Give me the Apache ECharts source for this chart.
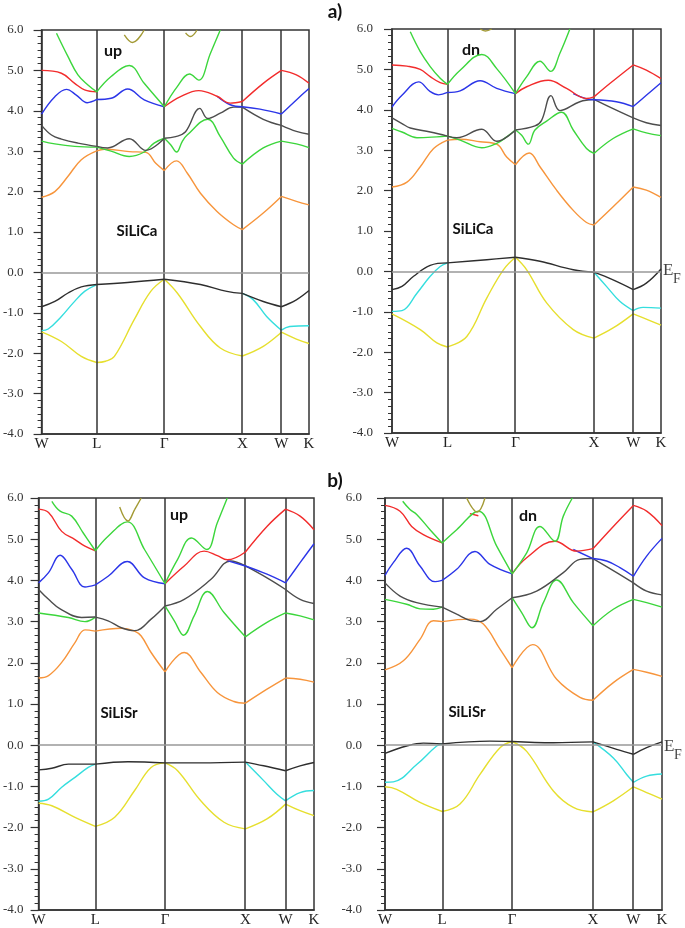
<!DOCTYPE html>
<html><head><meta charset="utf-8">
<script src="https://cdn.jsdelivr.net/npm/echarts@6/dist/echarts.min.js"></script>
<style>html,body{margin:0;padding:0;background:#fff}#c{width:685px;height:928px}</style>
</head><body><div id="c"></div><script>
// high-symmetry k positions (path length units) and their labels
const kPoints = [0, 0.707, 1.573, 2.573, 3.073, 3.427];
const kLabels = ['W', 'L', 'Γ', 'X', 'W', 'K'];
const yMin = -4, yMax = 6, yStep = 1;

// ---------- a) SiLiCa, spin up ----------
const aUp_yellow = [[0,-1.47],[0.254,-1.71],[0.509,-2.08],[0.707,-2.23],[0.82,-2.2],[0.933,-2.08],[1.187,-1.17],[1.399,-0.47],[1.573,-0.17],[1.739,-0.51],[2.036,-1.34],[2.290,-1.87],[2.573,-2.07],[2.841,-1.83],[3.073,-1.48],[3.265,-1.65],[3.427,-1.76]];
const aUp_cyan = [[0,-1.44],[0.085,-1.40],[0.254,-1.09],[0.403,-0.76],[0.551,-0.47],[0.707,-0.30],null,[2.573,-0.52],[2.714,-0.68],[2.884,-1.09],[3.073,-1.43],[3.181,-1.34],[3.427,-1.32]];
const aUp_black = [[0,-0.85],[0.170,-0.72],[0.339,-0.51],[0.509,-0.36],[0.707,-0.30],[1.103,-0.25],[1.573,-0.17],[2.036,-0.30],[2.375,-0.47],[2.573,-0.52],[2.841,-0.72],[3.073,-0.85],[3.265,-0.68],[3.427,-0.45]];
const aUp_orange = [[0,1.86],[0.170,2.0],[0.339,2.38],[0.509,2.79],[0.707,3.01],[0.806,3.05],[1.124,2.99],[1.336,2.97],[1.463,2.7],[1.573,2.52],[1.730,2.76],[1.866,2.46],[2.036,1.96],[2.248,1.51],[2.460,1.18],[2.573,1.06],[2.841,1.47],[3.073,1.88],[3.265,1.76],[3.427,1.67]];
const aUp_greenLo = [[0,3.25],[0.170,3.18],[0.424,3.12],[0.707,3.10],[0.891,3.0],[1.124,2.87],[1.315,2.98],[1.442,3.2],[1.573,3.32],[1.654,3.16],[1.730,2.98],[1.802,3.24],[1.866,3.4],[2.129,3.79],[2.290,3.36],[2.460,2.83],[2.573,2.68],[2.841,3.08],[3.073,3.25],[3.265,3.18],[3.427,3.09]];
const aUp_gray = [[0,3.64],[0.127,3.4],[0.254,3.3],[0.466,3.2],[0.707,3.12],[0.848,3.08],[1.124,3.31],[1.336,3.02],[1.573,3.32],[1.718,3.36],[1.845,3.48],[2.027,4.06],[2.129,3.81],[2.290,3.94],[2.460,4.09],[2.573,4.09],[2.841,3.79],[3.073,3.64],[3.265,3.49],[3.427,3.42]];
const aUp_blue = [[0,3.92],[0.170,4.35],[0.318,4.53],[0.445,4.39],[0.585,4.2],[0.707,4.28],[0.891,4.31],[1.103,4.54],[1.315,4.27],[1.573,4.1],null,[2.248,4.36],[2.417,4.15],[2.573,4.1],[2.799,4.04],[3.073,3.92],[3.265,4.27],[3.427,4.55]];
const aUp_red = [[0,5.0],[0.254,4.93],[0.424,4.68],[0.551,4.52],[0.707,4.47],null,[1.573,4.1],[1.781,4.35],[2.014,4.5],[2.248,4.36],[2.417,4.19],[2.573,4.23],[2.841,4.68],[3.073,5.0],[3.265,4.89],[3.427,4.68]];
const aUp_greenHi = [[0.191,5.92],[0.339,5.34],[0.466,4.89],[0.594,4.64],[0.707,4.47],[0.891,4.85],[1.124,5.12],[1.315,4.68],[1.573,4.1],[1.739,4.6],[1.896,4.91],[2.014,4.76],[2.163,5.42],[2.290,6.0]];
const aUp_olive = [[1.06,5.88],[1.166,5.69],[1.315,6.0],null,[1.845,5.93],[1.908,5.84],[1.993,6.0]];

// ---------- a) SiLiCa, spin down ----------
const aDn_yellow = [[0,-1.05],[0.360,-1.44],[0.572,-1.77],[0.707,-1.87],[0.953,-1.61],[1.207,-0.66],[1.419,0.04],[1.573,0.35],[1.716,0.04],[1.970,-0.78],[2.309,-1.44],[2.573,-1.65],[2.817,-1.40],[3.073,-1.05],[3.240,-1.18],[3.427,-1.33]];
const aDn_cyan = [[0,-0.99],[0.127,-0.97],[0.318,-0.54],[0.487,-0.12],[0.614,0.12],[0.707,0.21],null,[2.573,-0.02],[2.732,-0.37],[2.902,-0.74],[3.073,-0.97],[3.198,-0.89],[3.427,-0.91]];
const aDn_black = [[0,-0.45],[0.127,-0.37],[0.275,-0.12],[0.487,0.15],[0.707,0.21],[1.207,0.29],[1.573,0.35],[1.885,0.25],[2.309,0.04],[2.573,-0.02],[2.817,-0.21],[3.073,-0.45],[3.240,-0.29],[3.427,0.06]];
const aDn_orange = [[0,2.09],[0.191,2.21],[0.360,2.59],[0.530,3.04],[0.707,3.25],[0.868,3.27],[1.123,3.21],[1.334,3.15],[1.461,2.83],[1.573,2.64],[1.749,2.93],[1.885,2.59],[2.097,2.01],[2.309,1.51],[2.478,1.21],[2.573,1.15],[2.817,1.6],[3.073,2.09],[3.240,2.01],[3.427,1.83]];
const aDn_greenLo = [[0,3.54],[0.127,3.45],[0.318,3.31],[0.572,3.33],[0.707,3.35],[0.868,3.25],[1.144,3.06],[1.334,3.17],[1.461,3.33],[1.573,3.5],[1.652,3.37],[1.737,3.15],[1.821,3.5],[1.970,3.72],[2.160,3.94],[2.309,3.5],[2.478,3.04],[2.573,2.92],[2.817,3.29],[3.073,3.53],[3.240,3.43],[3.427,3.36]];
const aDn_gray = [[0,3.80],[0.127,3.66],[0.233,3.55],[0.487,3.45],[0.707,3.35],[0.826,3.31],[1.144,3.52],[1.334,3.22],[1.573,3.5],[1.821,3.6],[1.906,3.74],[2.025,4.35],[2.139,3.98],[2.393,4.2],[2.573,4.26],[2.817,4.03],[3.073,3.8],[3.240,3.68],[3.427,3.61]];
const aDn_blue = [[0,4.07],[0.127,4.36],[0.339,4.69],[0.487,4.45],[0.593,4.37],[0.707,4.43],[0.868,4.47],[1.123,4.72],[1.334,4.53],[1.573,4.4],null,[2.309,4.4],[2.478,4.27],[2.573,4.25],[2.859,4.2],[3.073,4.08],[3.240,4.36],[3.427,4.67]];
const aDn_red = [[0,5.11],[0.191,5.08],[0.360,5.0],[0.487,4.82],[0.614,4.67],[0.707,4.63],null,[1.573,4.4],[1.716,4.57],[1.991,4.73],[2.224,4.53],[2.478,4.28],[2.573,4.32],[2.775,4.65],[3.073,5.11],[3.240,4.98],[3.427,4.77]];
const aDn_greenHi = [[0.233,5.93],[0.360,5.44],[0.487,5.07],[0.614,4.78],[0.707,4.63],[0.868,4.98],[1.144,5.37],[1.334,5.02],[1.573,4.4],[1.716,4.82],[1.885,5.2],[2.021,4.95],[2.139,5.4],[2.266,6.0]];
const aDn_olive = [[1.123,6.0],[1.19,5.95],[1.271,6.0]];

// ---------- b) SiLiSr, spin up ----------
const bUp_yellow = [[0,-1.41],[0.165,-1.47],[0.453,-1.75],[0.707,-1.97],[0.947,-1.75],[1.195,-1.10],[1.400,-0.54],[1.573,-0.43],[1.730,-0.62],[2.018,-1.35],[2.307,-1.87],[2.573,-2.03],[2.842,-1.79],[3.073,-1.43],[3.254,-1.59],[3.427,-1.71]];
const bUp_cyan = [[0,-1.36],[0.124,-1.31],[0.288,-1.02],[0.453,-0.78],[0.618,-0.54],[0.707,-0.46],null,[2.573,-0.41],[2.801,-0.86],[2.966,-1.19],[3.073,-1.35],[3.254,-1.15],[3.427,-1.10]];
const bUp_black = [[0,-0.6],[0.165,-0.56],[0.371,-0.46],[0.707,-0.46],[1.112,-0.40],[1.573,-0.43],[2.018,-0.43],[2.573,-0.41],[2.801,-0.5],[3.073,-0.62],[3.254,-0.5],[3.427,-0.42]];
const bUp_orange = [[0,1.63],[0.124,1.69],[0.288,2.01],[0.453,2.49],[0.577,2.8],[0.707,2.77],[1.030,2.84],[1.195,2.77],[1.277,2.65],[1.400,2.25],[1.573,1.78],[1.812,2.25],[2.018,1.77],[2.224,1.28],[2.430,1.06],[2.573,1.02],[2.842,1.36],[3.073,1.63],[3.254,1.6],[3.427,1.53]];
const bUp_greenLo = [[0,3.21],[0.371,3.10],[0.577,3.0],[0.707,3.11],null,[1.573,3.38],[1.689,3.02],[1.804,2.67],[1.936,3.14],[2.101,3.73],[2.307,3.22],[2.573,2.63],[2.842,2.98],[3.073,3.21],[3.254,3.14],[3.427,3.04]];
const bUp_gray = [[0,3.78],[0.124,3.54],[0.268,3.31],[0.535,3.10],[0.707,3.11],[0.865,3.02],[1.030,2.85],[1.195,2.78],[1.400,3.06],[1.573,3.38],[1.812,3.54],[2.142,4.02],[2.389,4.47],[2.573,4.35],[2.842,4.06],[3.073,3.78],[3.254,3.54],[3.427,3.44]];
const bUp_blue = [[0,3.94],[0.124,4.19],[0.268,4.61],[0.412,4.27],[0.577,3.84],[0.707,3.89],[0.865,4.1],[1.104,4.46],[1.318,4.06],[1.573,3.92],null,[2.348,4.48],[2.573,4.35],[2.842,4.15],[3.073,3.94],[3.254,4.43],[3.427,4.89]];
const bUp_red = [[0,5.73],[0.124,5.65],[0.288,5.19],[0.453,4.99],[0.577,4.83],[0.707,4.72],null,[1.573,3.92],[1.812,4.35],[2.060,4.71],[2.224,4.6],[2.348,4.5],[2.573,4.69],[2.842,5.31],[3.073,5.73],[3.254,5.56],[3.427,5.23]];
const bUp_greenHi = [[0.165,5.92],[0.268,5.68],[0.412,5.56],[0.556,5.15],[0.707,4.72],[0.865,5.07],[1.104,5.42],[1.318,4.75],[1.573,3.92],[1.730,4.51],[1.903,5.03],[2.092,4.75],[2.224,5.4],[2.348,6.0]];
const bUp_olive = [[1.009,5.78],[1.112,5.44],[1.195,5.72],[1.277,6.0]];

// ---------- b) SiLiSr, spin down ----------
const bDn_yellow = [[0,-1.01],[0.144,-1.07],[0.433,-1.39],[0.707,-1.61],[0.928,-1.43],[1.175,-0.71],[1.423,-0.06],[1.573,0.09],[1.753,-0.15],[2.083,-1.11],[2.330,-1.51],[2.573,-1.62],[2.825,-1.35],[3.073,-1.01],[3.237,-1.15],[3.427,-1.31]];
const bDn_cyan = [[0,-0.9],[0.103,-0.89],[0.392,-0.47],[0.639,-0.02],[0.707,0.03],null,[2.573,0.08],[2.825,-0.31],[2.990,-0.71],[3.073,-0.9],[3.237,-0.75],[3.427,-0.70]];
const bDn_black = [[0,-0.2],[0.268,-0.02],[0.474,0.05],[0.707,0.03],[1.299,0.1],[1.573,0.09],[2.083,0.06],[2.573,0.08],[2.866,-0.1],[3.073,-0.22],[3.237,-0.06],[3.427,0.08]];
const bDn_orange = [[0,1.83],[0.227,2.05],[0.433,2.57],[0.598,3.02],[0.707,3.0],[1.052,3.06],[1.217,2.94],[1.423,2.33],[1.573,1.88],[1.827,2.44],[2.124,1.6],[2.412,1.16],[2.573,1.09],[2.825,1.52],[3.073,1.84],[3.237,1.77],[3.427,1.67]];
const bDn_greenLo = [[0,3.54],[0.268,3.42],[0.433,3.31],[0.598,3.3],[0.707,3.35],null,[1.573,3.58],[1.691,3.22],[1.819,2.85],[1.959,3.46],[2.124,4.01],[2.330,3.46],[2.573,2.90],[2.825,3.3],[3.073,3.54],[3.237,3.46],[3.427,3.35]];
const bDn_gray = [[0,3.94],[0.186,3.62],[0.392,3.46],[0.707,3.35],[0.887,3.18],[1.052,3.03],[1.175,3.0],[1.382,3.3],[1.573,3.58],[1.876,3.74],[2.206,4.19],[2.412,4.51],[2.573,4.53],[2.866,4.19],[3.073,3.94],[3.237,3.74],[3.427,3.65]];
const bDn_blue = [[0,4.12],[0.103,4.43],[0.268,4.78],[0.433,4.35],[0.619,3.97],[0.707,4.0],[0.887,4.27],[1.113,4.70],[1.299,4.39],[1.573,4.16],null,[2.330,4.75],[2.573,4.53],[2.742,4.47],[2.907,4.31],[3.073,4.10],[3.237,4.59],[3.427,5.02]];
const bDn_red = [[0,5.82],[0.186,5.68],[0.330,5.31],[0.474,5.11],[0.707,4.91],null,[1.05,5.62],[1.155,5.57],null,[1.573,4.16],[1.753,4.55],[2.103,4.95],[2.371,4.71],[2.573,4.77],[2.825,5.31],[3.073,5.82],[3.237,5.68],[3.427,5.33]];
const bDn_greenHi = [[0.219,5.92],[0.309,5.72],[0.392,5.6],[0.557,5.23],[0.707,4.91],[0.887,5.23],[1.155,5.68],[1.382,4.83],[1.573,4.16],[1.753,4.67],[1.918,5.31],[2.103,4.95],[2.206,5.56],[2.318,6.0]];
const bDn_olive = [[1.010,6.0],[1.142,5.66],[1.237,6.0]];

// ---------- layout / style (not data) ----------
const bandOrder = ['yellow','cyan','black','orange','greenLo','gray','blue','red','greenHi','olive'];
const bandColors = {yellow:'#e6df2e', cyan:'#35dede', black:'#2e2e2e', orange:'#f7953c', greenLo:'#3cd63c',
  gray:'#4d4d4d', blue:'#2b35e8', red:'#f22c2c', greenHi:'#3cd63c', olive:'#a39a35'};

const panels = [
  {grid:{left:40, top:30, width:269, height:404}, labelMargin:18,
   bands:{yellow:aUp_yellow,cyan:aUp_cyan,black:aUp_black,orange:aUp_orange,greenLo:aUp_greenLo,gray:aUp_gray,blue:aUp_blue,red:aUp_red,greenHi:aUp_greenHi,olive:aUp_olive}},
  {grid:{left:392, top:29, width:269, height:404}, labelMargin:19,
   bands:{yellow:aDn_yellow,cyan:aDn_cyan,black:aDn_black,orange:aDn_orange,greenLo:aDn_greenLo,gray:aDn_gray,blue:aDn_blue,red:aDn_red,greenHi:aDn_greenHi,olive:aDn_olive}},
  {grid:{left:37, top:498, width:277, height:415}, labelMargin:15,
   bands:{yellow:bUp_yellow,cyan:bUp_cyan,black:bUp_black,orange:bUp_orange,greenLo:bUp_greenLo,gray:bUp_gray,blue:bUp_blue,red:bUp_red,greenHi:bUp_greenHi,olive:bUp_olive}},
  {grid:{left:385, top:498, width:277, height:415}, labelMargin:23,
   bands:{yellow:bDn_yellow,cyan:bDn_cyan,black:bDn_black,orange:bDn_orange,greenLo:bDn_greenLo,gray:bDn_gray,blue:bDn_blue,red:bDn_red,greenHi:bDn_greenHi,olive:bDn_olive}}
];

function isSym(k){ return kPoints.some(v => Math.abs(v - k) < 1e-6); }
function splitSegments(pts){
  const out = []; let cur = [];
  for (const p of pts){
    if (p === null){ if (cur.length > 1) out.push(cur); cur = []; continue; }
    cur.push(p);
    if (cur.length > 1 && isSym(p[0])){ out.push(cur); cur = [p]; }
  }
  if (cur.length > 1) out.push(cur);
  return out;
}

const grids = [], xAxes = [], yAxes = [], series = [];
panels.forEach((p, gi) => {
  grids.push(Object.assign({show:true, borderColor:'#333', borderWidth:1.5, backgroundColor:'transparent', containLabel:false}, p.grid));
  xAxes.push({type:'value', gridIndex:gi, min:kPoints[0], max:kPoints[kPoints.length-1],
    axisLine:{show:true, onZero:false, lineStyle:{color:'#333', width:1.5}},
    axisTick:{show:false}, splitLine:{show:false},
    axisLabel:{show:true, customValues:kPoints, margin:3, color:'#222', fontFamily:'Liberation Serif', fontSize:15,
      formatter:(v)=>{ const i = kPoints.findIndex(k=>Math.abs(k-v)<1e-6); return i>=0 ? kLabels[i] : ''; }}});
  yAxes.push({type:'value', gridIndex:gi, min:yMin, max:yMax, interval:yStep,
    axisLine:{show:true, onZero:false, lineStyle:{color:'#333', width:1.5}},
    axisTick:{show:true, length:8, lineStyle:{color:'#333', width:1.2}},
    minorTick:{show:true, splitNumber:6, length:4, lineStyle:{color:'#333', width:1}},
    splitLine:{show:false},
    axisLabel:{margin:p.labelMargin, color:'#333', fontFamily:'Liberation Serif', fontSize:13, formatter:(v)=>v.toFixed(1)}});
  let first = true;
  bandOrder.forEach((b, bi) => {
    const pts = p.bands[b]; if (!pts) return;
    splitSegments(pts).forEach(seg => {
      const s = {type:'line', xAxisIndex:gi, yAxisIndex:gi, data:seg, smooth:0.4, symbol:'none', showSymbol:false,
        silent:true, animation:false, lineStyle:{color:bandColors[b], width:1.4}, z:2+bi};
      if (first){
        s.markLine = {silent:true, symbol:'none', animation:false, label:{show:false},
          data: kPoints.slice(1, -1).map(k => ({xAxis:k, lineStyle:{color:'#333', width:1.5, type:'solid'}}))
            .concat([{yAxis:0, lineStyle:{color:'#999', width:1.5, type:'solid'}}])};
        first = false;
      }
      series.push(s);
    });
  });
});

const txt = (x, y, text, font, extra) => Object.assign({type:'text', x, y, silent:true,
  style:Object.assign({text, font, fill:'#111', textAlign:'center', textVerticalAlign:'middle', align:'center', verticalAlign:'middle'}, extra||{})});
const graphic = [
  txt(335, 12, 'a)', 'bold 19px Lato'),
  txt(335, 481, 'b)', 'bold 19px Lato'),
  txt(113, 51, 'up', 'bold 16px Lato'),
  txt(137, 231, 'SiLiCa', 'bold 15px Lato'),
  txt(471, 50, 'dn', 'bold 16px Lato'),
  txt(473, 229, 'SiLiCa', 'bold 15px Lato'),
  txt(179, 515, 'up', 'bold 16px Lato'),
  txt(119, 713, 'SiLiSr', 'bold 15px Lato'),
  txt(528, 516, 'dn', 'bold 16px Lato'),
  txt(467, 712, 'SiLiSr', 'bold 15px Lato'),
  txt(663, 271, 'E', '17px "Liberation Serif"', {fill:'#444', textAlign:'left', align:'left'}),
  txt(673, 279, 'F', '14px "Liberation Serif"', {fill:'#444', textAlign:'left', align:'left'}),
  txt(664, 747, 'E', '17px "Liberation Serif"', {fill:'#444', textAlign:'left', align:'left'}),
  txt(674, 755, 'F', '14px "Liberation Serif"', {fill:'#444', textAlign:'left', align:'left'})
];

const chart = echarts.init(document.getElementById('c'), null, {renderer:'canvas'});
chart.setOption({animation:false, backgroundColor:'#fff', grid:grids, xAxis:xAxes, yAxis:yAxes, series, graphic});
</script></body></html>
